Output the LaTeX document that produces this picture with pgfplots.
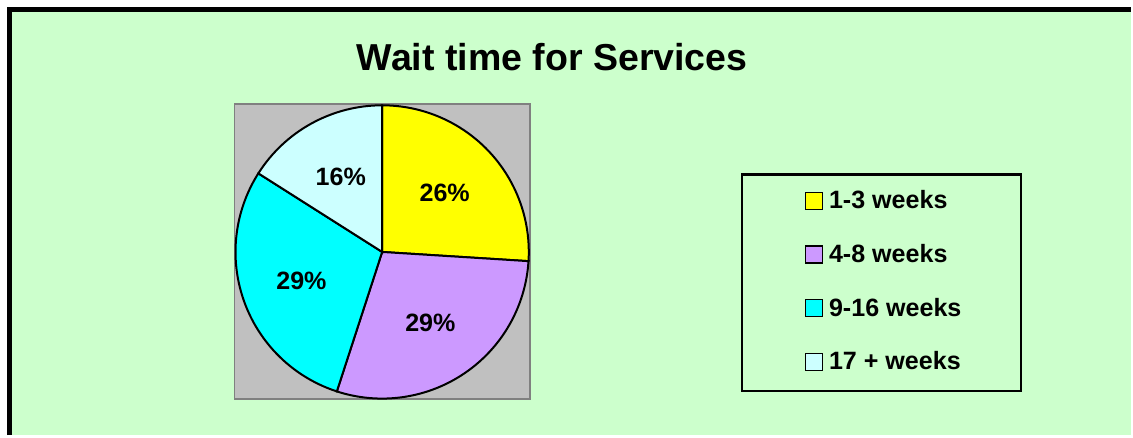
\documentclass[border=0pt]{standalone}
\usepackage{fontspec}
\setmainfont{Liberation Sans}
\usepackage{pgfplots}
\pgfplotsset{compat=1.18}
\usepackage{pgfplotstable}
\usetikzlibrary{calc}
\definecolor{bgg}{HTML}{CCFFCC}
\definecolor{plotg}{HTML}{C0C0C0}
\definecolor{frameg}{HTML}{808080}
\definecolor{pieY}{HTML}{FFFF00}
\definecolor{pieP}{HTML}{CC99FF}
\definecolor{pieC}{HTML}{00FFFF}
\definecolor{pieL}{HTML}{CCFFFF}

\pgfplotstableread{
v c lab
26 pieY {1-3 weeks}
29 pieP {4-8 weeks}
29 pieC {9-16 weeks}
16 pieL {17 + weeks}
}\piedata

\newcommand\pielab{\fontsize{14.3}{16}\selectfont\bfseries}

\begin{document}
\begin{tikzpicture}
\begin{axis}[x=0.02cm,y=0.02cm,xmin=0,xmax=1133,ymin=0,ymax=436,
  scale only axis,hide axis,clip=false,
  legend cell align=left,
  legend image code/.code={\draw[#1,line width=0.8pt] (0cm,-0.17cm) rectangle (0.34cm,0.17cm);},
  legend style={at={(axis cs:886,154)},anchor=center,draw=none,fill=none,inner sep=0pt,
    font=\pielab,row sep=0.59cm,column sep=0.08cm,nodes={inner sep=1pt}}]
% page area, background and frame
\path[fill=white] (axis cs:0,0) rectangle (axis cs:1133,436);
\fill[bgg] (axis cs:9.5,0) rectangle (axis cs:1133,426.5);
\draw[black,line width=0.1cm] (axis cs:9.5,0) -- (axis cs:9.5,426.5) -- (axis cs:1133,426.5);
\filldraw[fill=plotg,draw=frameg,line width=0.03cm] (axis cs:235,36) rectangle (axis cs:531,332);
\draw[black,line width=0.045cm] (axis cs:744,261) rectangle (axis cs:1023,44);
\node[font=\fontsize{21.4}{24}\selectfont\bfseries] at (axis cs:553.5,379) {Wait time for Services};
% slices from the table, clockwise from 12 o'clock
\def\astart{90}
\pgfplotsforeachungrouped \i in {0,1,2,3}{%
  \pgfplotstablegetelem{\i}{v}\of\piedata \let\v\pgfplotsretval
  \pgfplotstablegetelem{\i}{c}\of\piedata \let\c\pgfplotsretval
  \pgfplotstablegetelem{\i}{lab}\of\piedata \let\lab\pgfplotsretval
  \pgfmathsetmacro\aend{\astart-3.6*\v}
  \pgfmathsetmacro\amid{(\astart+\aend)/2}
  \edef\temp{%
    \noexpand\filldraw[fill=\c,draw=black,line width=0.04cm] (axis cs:383,183.5) -- ++(\astart:2.94cm)
      arc[start angle=\astart,end angle=\aend,radius=2.94cm] -- cycle;
    \noexpand\node[font=\noexpand\pielab] at ($(axis cs:383,183.5)+(\amid:1.72cm)$) {\v\noexpand\%};
    \noexpand\addlegendimage{fill=\c,draw=black}
    \noexpand\addlegendentry{\lab}}%
  \temp
  \let\astart\aend
}
\end{axis}
\end{tikzpicture}
\end{document}
